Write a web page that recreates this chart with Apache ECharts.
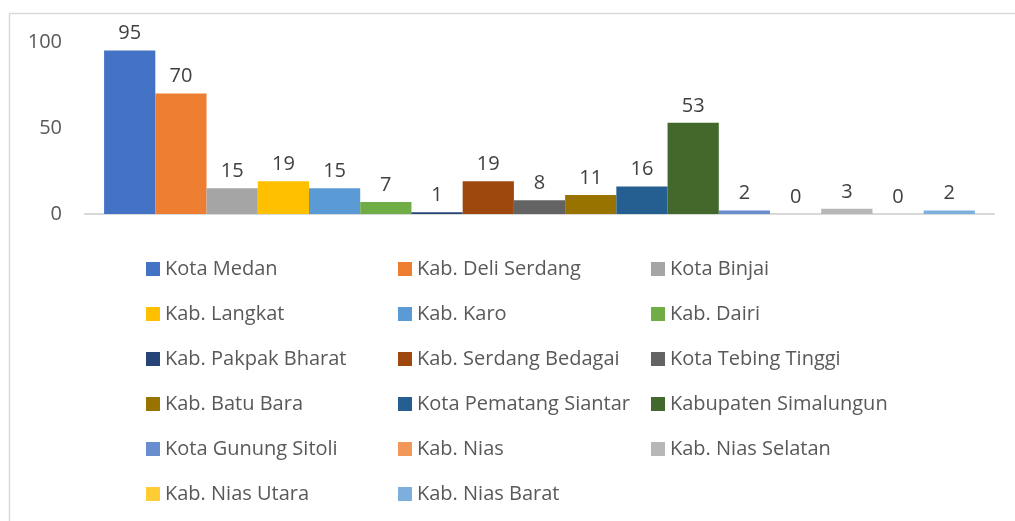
<!DOCTYPE html>
<html>
<head>
<meta charset="utf-8">
<script src="https://cdn.jsdelivr.net/npm/echarts@6/dist/echarts.min.js"></script>
<style>
  html, body { margin: 0; padding: 0; background: #fff; }
  #chart { width: 1015px; height: 521px; }
</style>
</head>
<body>
<div id="chart"></div>
<script>
var regions = [
    'Kota Medan', 'Kab. Deli Serdang', 'Kota Binjai',
    'Kab. Langkat', 'Kab. Karo', 'Kab. Dairi',
    'Kab. Pakpak Bharat', 'Kab. Serdang Bedagai', 'Kota Tebing Tinggi',
    'Kab. Batu Bara', 'Kota Pematang Siantar', 'Kabupaten Simalungun',
    'Kota Gunung Sitoli', 'Kab. Nias', 'Kab. Nias Selatan',
    'Kab. Nias Utara', 'Kab. Nias Barat'
];
var counts = [95, 70, 15, 19, 15, 7, 1, 19, 8, 11, 16, 53, 2, 0, 3, 0, 2];
var colors = [
    '#4472C4', '#ED7D31', '#A5A5A5', '#FFC000', '#5B9BD5', '#70AD47',
    '#264478', '#9E480E', '#636363', '#997300', '#255E91', '#43682B',
    '#698ED0', '#F1975A', '#B7B7B7', '#FFCD33', '#7CAFDD'
];
var yTicks = { min: 0, max: 100, interval: 50 };

var myChart = echarts.init(document.getElementById('chart'));
var font = '"Open Sans", "Noto Sans", sans-serif';

var series = [];
for (var i = 0; i < regions.length; i++) {
    series.push({
        name: regions[i],
        type: 'bar',
        data: [counts[i]],
        barGap: 0,
        barCategoryGap: '4.2%',
        itemStyle: { color: colors[i] },
        label: {
            show: true,
            position: 'top',
            distance: 7,
            color: '#404040',
            fontSize: 20,
            fontFamily: font
        }
    });
}

// three legend columns, filled row by row like the original
function legendColumn(col, left) {
    var names = [];
    for (var i = col; i < regions.length; i += 3) names.push(regions[i]);
    return {
        data: names,
        orient: 'vertical',
        left: left,
        top: 254,
        icon: 'rect',
        itemWidth: 14,
        itemHeight: 14,
        itemGap: 25,
        textStyle: { color: '#595959', fontSize: 20, fontFamily: font, lineHeight: 20 },
        selectedMode: false
    };
}

var option = {
    animation: false,
    graphic: [{
        type: 'rect',
        shape: { x: 9.5, y: 13.5, width: 1200, height: 700 },
        style: { fill: 'none', stroke: '#D9D9D9', lineWidth: 1.5 },
        silent: true
    }],
    grid: { left: 85, right: 21, top: 42, bottom: 307 },
    legend: [legendColumn(0, 141), legendColumn(1, 393), legendColumn(2, 646)],
    xAxis: {
        type: 'category',
        data: [''],
        axisLine: { lineStyle: { color: '#D9D9D9', width: 2 } },
        axisTick: { show: false },
        axisLabel: { show: false }
    },
    yAxis: {
        type: 'value',
        min: yTicks.min,
        max: yTicks.max,
        interval: yTicks.interval,
        splitLine: { show: false },
        axisLine: { show: false },
        axisTick: { show: false },
        axisLabel: { color: '#595959', fontSize: 20, fontFamily: font, margin: 23 }
    },
    series: series
};

myChart.setOption(option);
window.addEventListener('resize', function () {
    myChart.resize();
});
</script>
</body>
</html>
